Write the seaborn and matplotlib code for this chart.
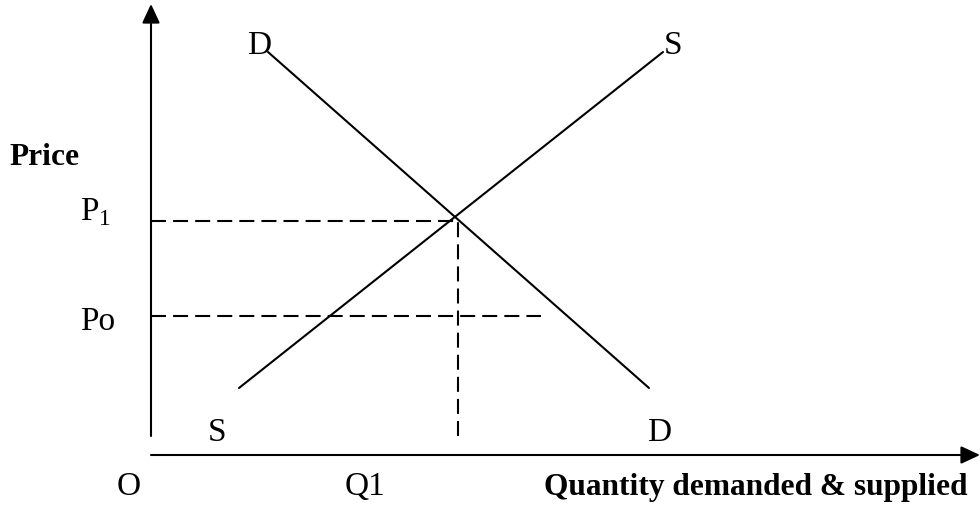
import matplotlib
matplotlib.use("Agg")
import matplotlib.pyplot as plt
import seaborn as sns
import pandas as pd

sns.set_theme(style="white")
plt.rcParams["font.family"] = ["Liberation Serif", "DejaVu Serif"]
plt.rcParams["mathtext.fontset"] = "custom"
plt.rcParams["mathtext.rm"] = "Liberation Serif"

# ---- data (quantity, price) in diagram units ----
demand_q = [117, 498]
demand_p = [403, 67]
supply_q = [88, 512]
supply_p = [67, 403]
q1 = 307          # equilibrium quantity
p1 = 234          # equilibrium price
po = 139          # price Po
po_q_end = 390    # extent of the Po dashed line
axis_x_max = 829
axis_y_max = 451
axis_y_min = 19

curve_df = pd.concat([
    pd.DataFrame({"q": demand_q, "p": demand_p, "curve": "D"}),
    pd.DataFrame({"q": supply_q, "p": supply_p, "curve": "S"}),
])

fig = plt.figure(figsize=(9.8, 5.06), dpi=100)
ax = fig.add_axes([0, 0, 1, 1])
ax.set_xlim(-151, 829)
ax.set_ylim(-50, 456)
ax.axis("off")

lw = 1.5
sns.lineplot(data=curve_df, x="q", y="p", units="curve", estimator=None,
             color="black", lw=lw, ax=ax, legend=False, sort=False)

dash = (7.2, 3.4)
ax.plot([0, q1], [p1, p1], color="black", lw=lw, dashes=dash)
ax.plot([0, po_q_end], [po, po], color="black", lw=lw, dashes=dash)
ax.plot([q1, q1], [axis_y_min, p1], color="black", lw=lw, dashes=dash)

# axes with arrows
ax.annotate("", xy=(0, axis_y_max), xytext=(0, axis_y_min),
            arrowprops=dict(arrowstyle="-|>,head_length=0.58,head_width=0.27",
                            lw=lw, color="black", shrinkA=0, shrinkB=0,
                            mutation_scale=20))
ax.annotate("", xy=(axis_x_max, 0), xytext=(0, 0),
            arrowprops=dict(arrowstyle="-|>,head_length=0.58,head_width=0.27",
                            lw=lw, color="black", shrinkA=0, shrinkB=0,
                            mutation_scale=20))

fs = 24
fsb = 22.6
def lab(x, y, s, ha="left", size=fs, **kw):
    ax.text(x, y, s, ha=ha, va="baseline", fontsize=size, color="black", **kw)

lab(108, 402, "D", ha="center")
lab(522, 402, "S", ha="center")
lab(66, 15, "S", ha="center")
lab(508, 15, "D", ha="center")
lab(-142, 291, "Price", fontweight="bold", size=fsb)
lab(-71, 236, r"P$_{\mathrm{1}}$")
lab(-71, 126, "Po")
lab(-10, -39, "O", ha="right")
lab(194, -39, "Q1")
lab(816, -39, "Quantity demanded & supplied", ha="right", fontweight="bold", size=fsb)

fig.savefig("out.png", dpi=100)
